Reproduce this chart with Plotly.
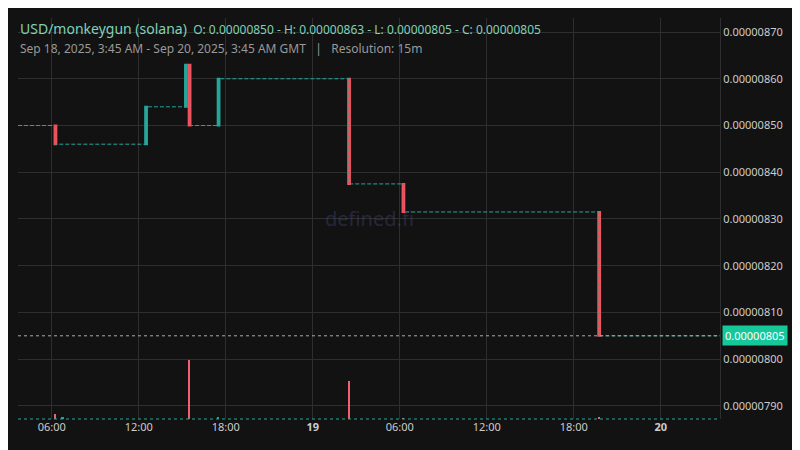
import plotly.graph_objects as go

# candles that moved (15m resolution)
candle_times = ["2025-09-18 06:15", "2025-09-18 12:30", "2025-09-18 15:15", "2025-09-18 15:30",
                "2025-09-18 17:30", "2025-09-19 02:30", "2025-09-19 06:15", "2025-09-19 19:45"]
opens = [0.00000850, 0.00000846, 0.00000854, 0.00000863, 0.00000850, 0.00000860, 0.000008375, 0.000008315]
highs = [0.00000850, 0.00000854, 0.00000863, 0.00000863, 0.00000860, 0.00000860, 0.000008375, 0.000008315]
lows = [0.00000846, 0.00000846, 0.00000854, 0.00000850, 0.00000850, 0.000008375, 0.000008315, 0.00000805]
closes = [0.00000846, 0.00000854, 0.00000863, 0.00000850, 0.00000860, 0.000008375, 0.000008315, 0.00000805]

# flat price level between candles
level_times = ["2025-09-18 03:40", "2025-09-18 06:15", "2025-09-18 12:30", "2025-09-18 15:15",
               "2025-09-18 15:30", "2025-09-18 17:30", "2025-09-19 02:30", "2025-09-19 06:15",
               "2025-09-19 19:45", "2025-09-20 04:05"]
level_values = [0.00000850, 0.00000846, 0.00000854, 0.00000863, 0.00000850, 0.00000860,
                0.000008375, 0.000008315, 0.00000805, 0.00000805]

vol_times = ["2025-09-18 06:15", "2025-09-18 06:45", "2025-09-18 15:30", "2025-09-18 17:30",
             "2025-09-19 02:30", "2025-09-19 06:15", "2025-09-19 19:45"]
vol_values = [9, 3, 100, 3, 64, 1.5, 4]
vol_colors = ["#f0626f", "#26a69a", "#f0626f", "#26a69a", "#f0626f", "#f0626f", "#f0626f"]

tick_vals = ["2025-09-18 06:00", "2025-09-18 12:00", "2025-09-18 18:00", "2025-09-19 00:00",
             "2025-09-19 06:00", "2025-09-19 12:00", "2025-09-19 18:00", "2025-09-20 00:00"]
tick_text = ["06:00", "12:00", "18:00", "<b>19</b>", "06:00", "12:00", "18:00", "<b>20</b>"]
price_ticks = [0.0000079, 0.0000080, 0.0000081, 0.0000082, 0.0000083, 0.0000084,
               0.0000085, 0.0000086, 0.0000087]

GREEN = "#26a69a"
RED = "#f0535f"

fig = go.Figure()

fig.add_trace(go.Bar(x=vol_times, y=vol_values, marker_color=vol_colors, marker_line_width=0,
                     width=7 * 60 * 1000, yaxis="y2", showlegend=False))

fig.add_trace(go.Scatter(x=level_times, y=level_values, mode="lines", line_shape="hv",
                         line=dict(color=GREEN, width=1, dash="4px,2px"), showlegend=False))

fig.add_trace(go.Candlestick(x=candle_times, open=opens, high=highs, low=lows, close=closes,
                             increasing=dict(line=dict(color=GREEN, width=2), fillcolor=GREEN),
                             decreasing=dict(line=dict(color=RED, width=2), fillcolor=RED),
                             whiskerwidth=0, showlegend=False))

last = closes[-1]
fig.add_hline(y=last, line=dict(color="#aaaaaa", width=1, dash="dot"))
fig.add_shape(type="line", xref="paper", yref="paper", x0=0, x1=1, y0=0, y1=0,
              line=dict(color=GREEN, width=1, dash="dot"))

fig.update_layout(
    width=800, height=450,
    paper_bgcolor="#121212", plot_bgcolor="#121212",
    margin=dict(l=10, r=88, t=10, b=39, autoexpand=False),
    font=dict(family="Noto Sans", color="#cccccc", size=11),
    xaxis=dict(type="date", range=["2025-09-18 03:40", "2025-09-20 04:05"],
               tickvals=tick_vals, ticktext=tick_text, showgrid=True, gridcolor="#2e2e2e",
               rangeslider=dict(visible=False), zeroline=False, tickfont=dict(size=11, color="#cccccc"),
               ticks="", showline=False, automargin=False),
    yaxis=dict(side="right", range=[0.000007872, 0.00000873], tickvals=price_ticks,
               tickformat=".8f", gridcolor="#2e2e2e", zeroline=False, showline=True,
               linecolor="#2e2e2e", tickfont=dict(size=11, color="#cccccc"), ticks="",
               automargin=False),
    yaxis2=dict(overlaying="y", range=[0, 680], visible=False),
    bargap=0,
)

fig.add_annotation(xref="paper", yref="y", x=1, y=last, xanchor="left", text="0.00000805",
                   showarrow=False, bgcolor="#16c79a", font=dict(color="white", size=11),
                   borderpad=2, xshift=2)
fig.add_annotation(xref="paper", yref="paper", x=0, y=0.975, xanchor="left", yanchor="middle",
                   showarrow=False,
                   text="<span style='font-size:14px'>USD/monkeygun (solana)</span>  "
                        "O: 0.00000850 - H: 0.00000863 - L: 0.00000805 - C: 0.00000805",
                   font=dict(color="#7fd1b9", size=12))
fig.add_annotation(xref="paper", yref="paper", x=0, y=0.925, xanchor="left", yanchor="middle",
                   showarrow=False,
                   text="Sep 18, 2025, 3:45 AM - Sep 20, 2025, 3:45 AM GMT   |   Resolution: 15m",
                   font=dict(color="#999999", size=12))
fig.add_annotation(xref="paper", yref="paper", x=0.5, y=0.5, showarrow=False, text="defined.fi",
                   font=dict(color="rgba(80,80,140,0.35)", size=20))

fig.write_html("out.html")
